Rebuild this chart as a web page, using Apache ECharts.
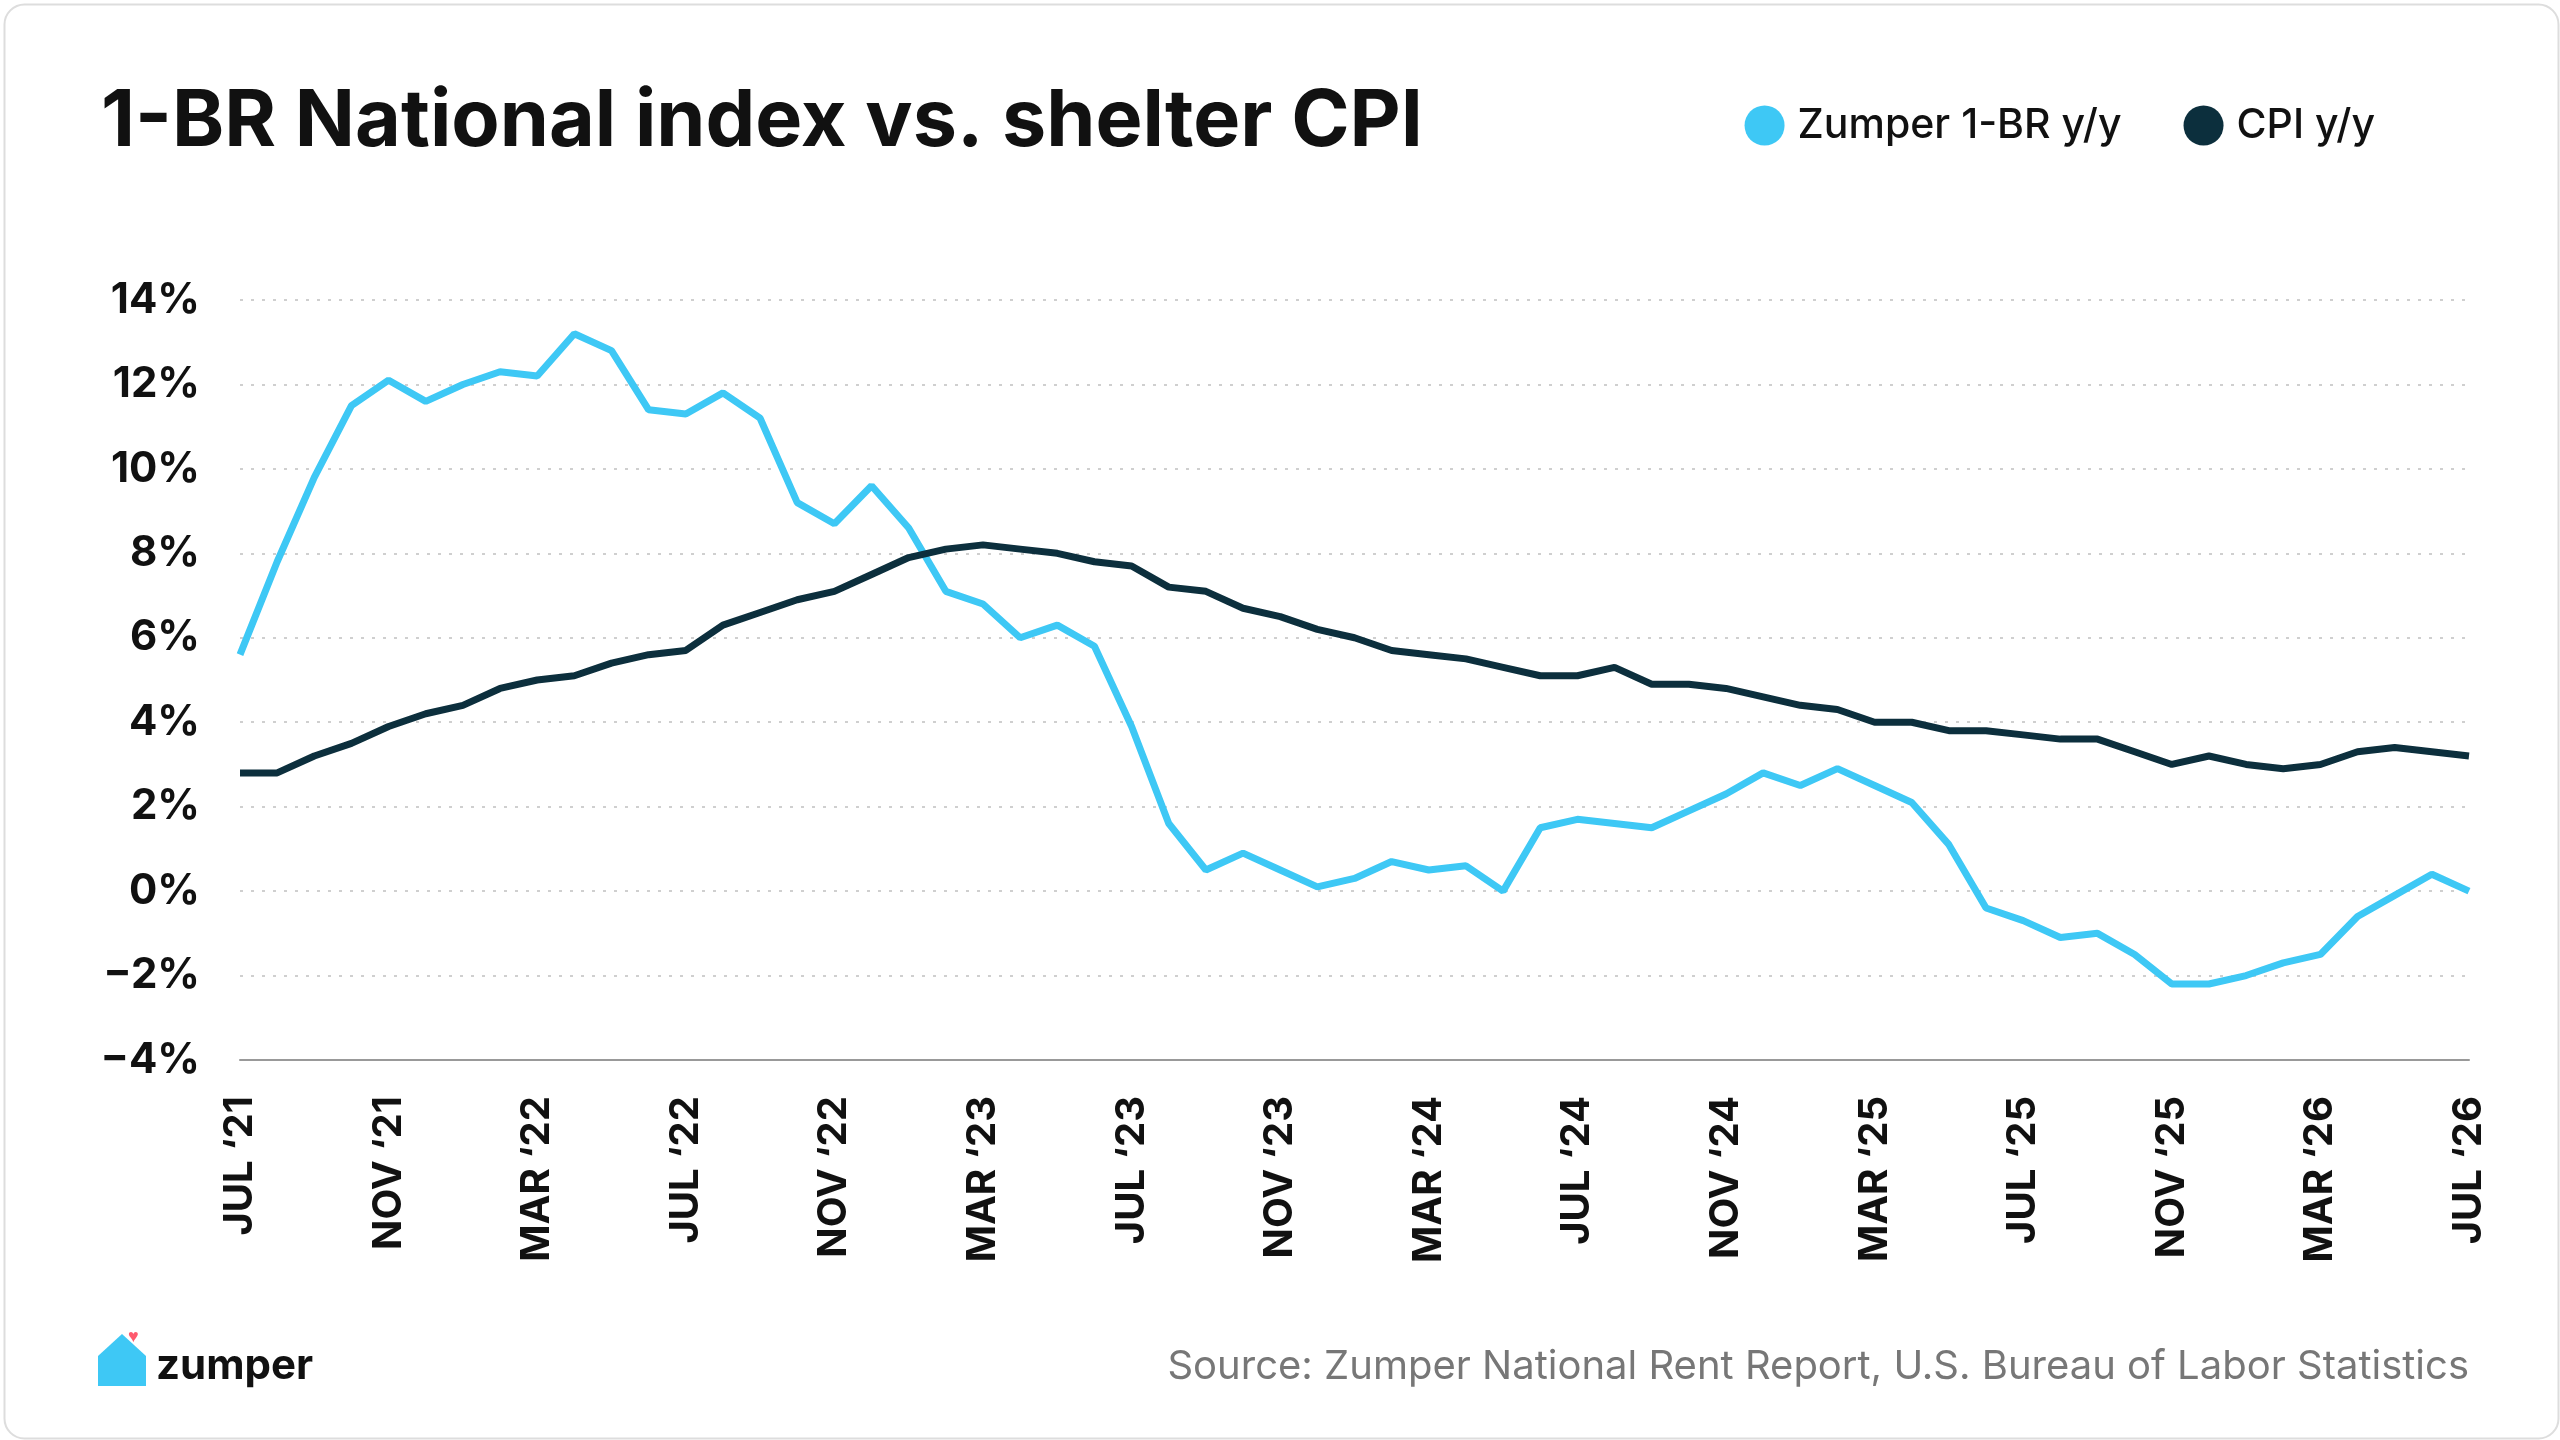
<!DOCTYPE html>
<html>
<head>
<meta charset="utf-8">
<script src="https://cdn.jsdelivr.net/npm/echarts@6/dist/echarts.min.js"></script>
<style>
  html, body { margin: 0; padding: 0; background: #fff; }
  #main { width: 2560px; height: 1440px; }
</style>
</head>
<body>
<div id="main"></div>
<script>
// Months Jul '21 .. Jul '26
const monthNames = ['JAN', 'FEB', 'MAR', 'APR', 'MAY', 'JUN', 'JUL', 'AUG', 'SEP', 'OCT', 'NOV', 'DEC'];
const months = [];
for (let i = 0; i <= 60; i++) {
    const m = (6 + i) % 12;
    const y = 21 + Math.floor((6 + i) / 12);
    months.push(monthNames[m] + ' \u2018' + y);
}

const zumper = [
    5.6, 7.8, 9.8, 11.5, 12.1, 11.6,
    12.0, 12.3, 12.2, 13.2, 12.8, 11.4, 11.3, 11.8, 11.2, 9.2, 8.7, 9.6,
    8.6, 7.1, 6.8, 6.0, 6.3, 5.8, 3.9, 1.6, 0.5, 0.9, 0.5, 0.1,
    0.3, 0.7, 0.5, 0.6, 0.0, 1.5, 1.7, 1.6, 1.5, 1.9, 2.3, 2.8,
    2.5, 2.9, 2.5, 2.1, 1.1, -0.4, -0.7, -1.1, -1.0, -1.5, -2.2, -2.2,
    -2.0, -1.7, -1.5, -0.6, -0.1, 0.4, 0.0
];
const cpi = [
    2.8, 2.8, 3.2, 3.5, 3.9, 4.2,
    4.4, 4.8, 5.0, 5.1, 5.4, 5.6, 5.7, 6.3, 6.6, 6.9, 7.1, 7.5,
    7.9, 8.1, 8.2, 8.1, 8.0, 7.8, 7.7, 7.2, 7.1, 6.7, 6.5, 6.2,
    6.0, 5.7, 5.6, 5.5, 5.3, 5.1, 5.1, 5.3, 4.9, 4.9, 4.8, 4.6,
    4.4, 4.3, 4.0, 4.0, 3.8, 3.8, 3.7, 3.6, 3.6, 3.3, 3.0, 3.2,
    3.0, 2.9, 3.0, 3.3, 3.4, 3.3, 3.2
];

const font = 'Inter, "Noto Sans", sans-serif';
const chart = echarts.init(document.getElementById('main'));

chart.setOption({
    backgroundColor: '#fff',
    animation: false,
    title: {
        text: '1-BR National index vs. shelter CPI',
        left: 96, top: 78,
        textStyle: { fontFamily: font, fontSize: 79, fontWeight: 'bold', color: '#111' }
    },
    legend: {
        right: 180, top: 100,
        icon: 'circle', itemWidth: 40, itemHeight: 40, itemGap: 62,
        textStyle: { fontFamily: font, fontSize: 41, fontWeight: 500, color: '#111', padding: [0, 0, 0, 8] },
        data: ['Zumper 1-BR y/y', 'CPI y/y']
    },
    grid: { left: 240, right: 91, top: 300, bottom: 380, containLabel: false },
    xAxis: {
        type: 'category',
        data: months,
        boundaryGap: false,
        axisLine: { onZero: false, lineStyle: { color: '#999', width: 2 } },
        axisTick: { show: false },
        axisLabel: {
            interval: 3, rotate: 90, margin: 36,
            fontFamily: font, fontSize: 40, fontWeight: 'bold', color: '#111'
        }
    },
    yAxis: {
        type: 'value',
        min: -4, max: 14, interval: 2,
        axisLine: { show: false },
        axisTick: { show: false },
        splitLine: { lineStyle: { color: '#cfcfcf', type: [3, 8], width: 2 } },
        axisLabel: {
            margin: 40,
            fontFamily: font, fontSize: 42, fontWeight: 'bold', color: '#111',
            formatter: v => (v < 0 ? '\u2212' + (-v) : v) + '%'
        }
    },
    series: [
        {
            name: 'Zumper 1-BR y/y', type: 'line', data: zumper,
            showSymbol: false, color: '#3ec8f5',
            lineStyle: { width: 7, color: '#3ec8f5' }
        },
        {
            name: 'CPI y/y', type: 'line', data: cpi,
            showSymbol: false, color: '#0c2f3d',
            lineStyle: { width: 7, color: '#0c2f3d' }
        }
    ],
    graphic: [
        {
            type: 'rect', left: 2, top: 2,
            shape: { width: 2554, height: 1434, r: 20 },
            style: { fill: 'none', stroke: '#dddddd', lineWidth: 2 }
        },
        {
            type: 'polygon',
            shape: { points: [[98, 1356], [122, 1334], [146, 1356], [146, 1386], [98, 1386]] },
            style: { fill: '#3ec8f5' }
        },
        {
            type: 'text', left: 128, top: 1328,
            style: { text: '\u2665', fontSize: 18, fill: '#ff5a6e' }
        },
        {
            type: 'text', left: 156, top: 1345,
            style: { text: 'zumper', fontFamily: font, fontSize: 42, fontWeight: 'bold', fill: '#111' }
        },
        {
            type: 'text', right: 91, top: 1347,
            style: {
                text: 'Source: Zumper National Rent Report, U.S. Bureau of Labor Statistics',
                fontFamily: font, fontSize: 40, fill: '#777'
            }
        }
    ]
});
</script>
</body>
</html>
